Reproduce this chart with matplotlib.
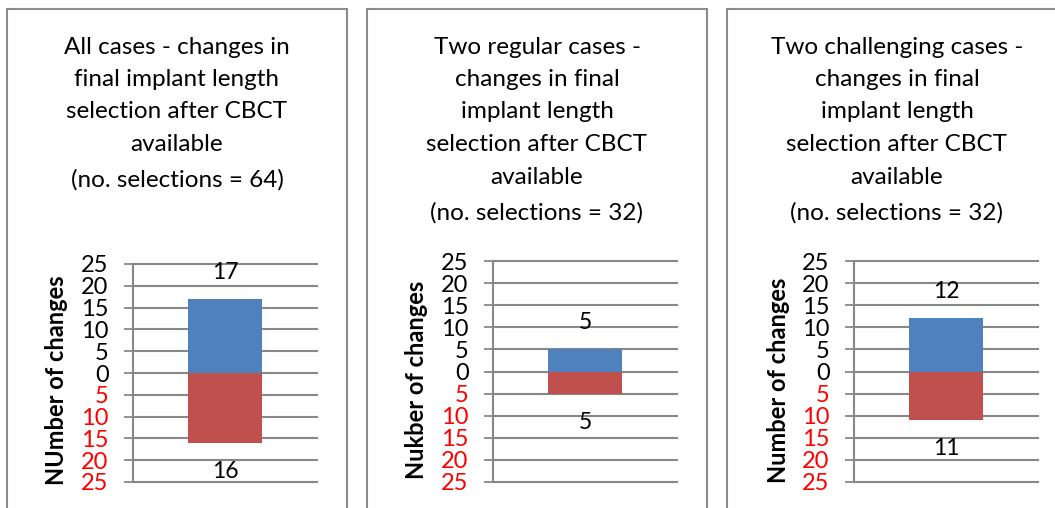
import numpy as np
import matplotlib.pyplot as plt
from matplotlib.patches import Rectangle

plt.rcParams['font.family'] = ['Lato', 'DejaVu Sans']

titles = [
    "All cases - changes in\nfinal implant length\nselection after CBCT\navailable\n(no. selections = 64)",
    "Two regular cases -\nchanges in final\nimplant length\nselection after CBCT\navailable\n(no. selections = 32)",
    "Two challenging cases -\nchanges in final\nimplant length\nselection after CBCT\navailable\n(no. selections = 32)",
]
ylabels = ["NUmber of changes", "Nukber of changes", "Number of changes"]
longer = [17, 5, 12]
shorter = [16, 5, 11]
tick_values = [-25, -20, -15, -10, -5, 0, 5, 10, 15, 20, 25]

W, H = 1055, 508
fig = plt.figure(figsize=(W / 100, H / 100), dpi=100)

# pixel layout: (axes left, axes right, axes top, axes bottom, box left)
layout = [
    (133, 317, 264, 482, 7),
    (493, 677, 261, 482, 367),
    (854, 1038, 261, 482, 727),
]
box_w = 340
grid_col = "#888888"
blue = "#4F81BD"
red = "#C0504D"

for i, (l, r, t, b, bx) in enumerate(layout):
    # panel border
    fig.patches.append(Rectangle((bx / W, -0.1), box_w / W, 1.1 - 9 / H,
                                 transform=fig.transFigure, fill=False,
                                 edgecolor="#8c8c8c", linewidth=1.5))
    ax = fig.add_axes([l / W, 1 - b / H, (r - l) / W, (b - t) / H])
    ax.bar([0], [longer[i]], width=0.4, color=blue, zorder=3)
    ax.bar([0], [-shorter[i]], width=0.4, color=red, zorder=3)
    ax.set_xlim(-0.5, 0.5)
    ax.set_ylim(-25, 25)
    ax.set_yticks(tick_values)
    ax.set_yticklabels([str(abs(v)) for v in tick_values], fontsize=17)
    for lab, v in zip(ax.get_yticklabels(), tick_values):
        lab.set_color("red" if v < 0 else "black")
    ax.set_xticks([])
    ax.tick_params(axis="y", length=6.5, width=1.3, color=grid_col, pad=11)
    ax.yaxis.grid(True, color=grid_col, linewidth=1.5)
    for gl in ax.get_ygridlines():
        gl.set_clip_on(False)
    ax.set_axisbelow(True)
    for s in ["top", "right", "bottom"]:
        ax.spines[s].set_visible(False)
    ax.spines["left"].set_color(grid_col)
    ax.spines["left"].set_linewidth(1.5)
    ax.spines["left"].set_zorder(4)

    # y label, placed by hand like the original
    lab_x = -76 / (r - l)
    ax.text(lab_x, (b - 380) / (b - t), ylabels[i], transform=ax.transAxes,
            rotation=90, ha="center", va="center", fontsize=17,
            fontweight="bold")

    ax.text(0, longer[i] + 6, str(longer[i]), ha="center", va="center", fontsize=16.5)
    ax.text(0, -shorter[i] - 6.5, str(shorter[i]), ha="center", va="center", fontsize=16.5)

    lines = titles[i].split("\n")
    for k, line in enumerate(lines):
        y_px = 47 + 32.5 * k + (3 if k == len(lines) - 1 else 0)
        fig.text((bx + box_w / 2) / W, 1 - y_px / H, line, ha="center",
                 va="center", fontsize=17.5)

fig.savefig("out.png", dpi=100)
